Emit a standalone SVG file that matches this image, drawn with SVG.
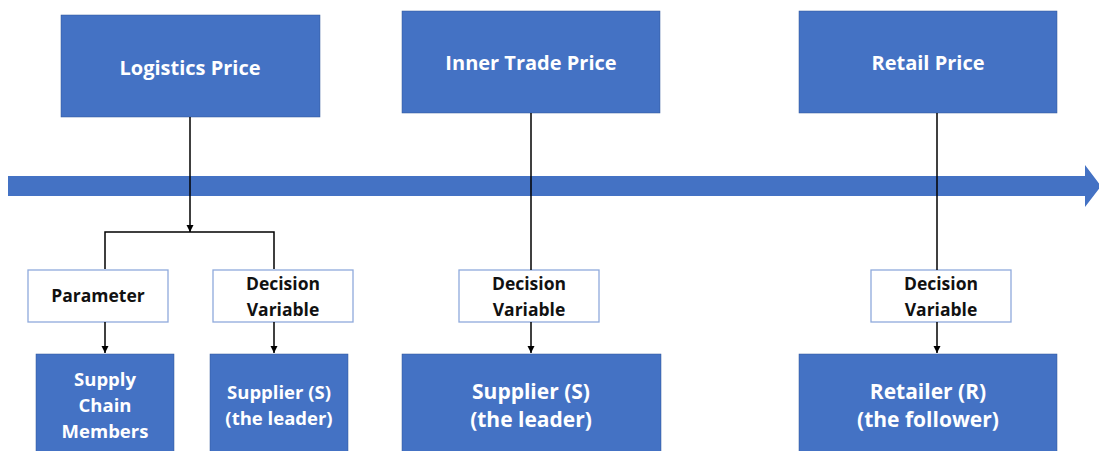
<svg xmlns="http://www.w3.org/2000/svg" width="1099" height="451" viewBox="0 0 1099 451">
<style>
.blue{fill:#4472C4;stroke:#2F5597;stroke-width:0.5}
.white{fill:#FFFFFF;stroke:#8FAADC;stroke-width:1.3}
.tw{font-family:"Open Sans","Liberation Sans",sans-serif;font-weight:bold;fill:#FFFFFF;text-anchor:middle}
.tb{font-family:"Open Sans","Liberation Sans",sans-serif;font-weight:bold;fill:#111111;text-anchor:middle;font-size:17.5px}
.ln{stroke:#000000;stroke-width:1.5;fill:none}
</style>
<defs>
<marker id="ah" viewBox="0 0 10 10" refX="10" refY="5" markerWidth="5" markerHeight="5" orient="auto">
<path d="M0,0 L10,5 L0,10 z" fill="#000"/>
</marker>
</defs>
<rect width="1099" height="451" fill="#FFFFFF"/>
<g id="timeline">
<path d="M8,176 L1085,176 L1085,165 L1101,186 L1085,207 L1085,196 L8,196 z" fill="#4472C4"/>
</g>
<g id="logistics-price"><rect class="blue" x="61" y="15" width="259" height="102"/><text class="tw" x="190" y="75" font-size="20">Logistics Price</text></g>
<g id="inner-trade-price"><rect class="blue" x="402" y="11" width="258" height="102"/><text class="tw" x="531" y="70" font-size="20">Inner Trade Price</text></g>
<g id="retail-price"><rect class="blue" x="799" y="11" width="258" height="102"/><text class="tw" x="928" y="70" font-size="20">Retail Price</text></g>
<g id="parameter"><rect class="white" x="28" y="270" width="140" height="52"/><text class="tb" x="98" y="302">Parameter</text></g>
<g id="decision-variable-1"><rect class="white" x="213" y="270" width="140" height="52"/><text class="tb" x="283" y="290">Decision</text><text class="tb" x="283" y="316">Variable</text></g>
<g id="decision-variable-2"><rect class="white" x="459" y="270" width="140" height="52"/><text class="tb" x="529" y="290">Decision</text><text class="tb" x="529" y="316">Variable</text></g>
<g id="decision-variable-3"><rect class="white" x="871" y="270" width="140" height="52"/><text class="tb" x="941" y="290">Decision</text><text class="tb" x="941" y="316">Variable</text></g>
<g id="supply-chain-members"><rect class="blue" x="36" y="354" width="138" height="100"/><text class="tw" x="105" y="386" font-size="18.5">Supply</text><text class="tw" x="105" y="412" font-size="18.5">Chain</text><text class="tw" x="105" y="438" font-size="18.5">Members</text></g>
<g id="supplier-1"><rect class="blue" x="210" y="354" width="138" height="100"/><text class="tw" x="279" y="399" font-size="18.5">Supplier (S)</text><text class="tw" x="279" y="425" font-size="18.5">(the leader)</text></g>
<g id="supplier-2"><rect class="blue" x="402" y="354" width="259" height="100"/><text class="tw" x="531" y="399" font-size="21">Supplier (S)</text><text class="tw" x="531" y="427" font-size="21">(the leader)</text></g>
<g id="retailer"><rect class="blue" x="799" y="354" width="258" height="100"/><text class="tw" x="928" y="399" font-size="21">Retailer (R)</text><text class="tw" x="928" y="427" font-size="21">(the follower)</text></g>
<g id="connectors">
<line class="ln" x1="190" y1="117" x2="190" y2="232" marker-end="url(#ah)"/>
<path class="ln" d="M105,269 L105,232 L274,232 L274,269"/>
<line class="ln" x1="105" y1="322" x2="105" y2="353" marker-end="url(#ah)"/>
<line class="ln" x1="274" y1="322" x2="274" y2="353" marker-end="url(#ah)"/>
<line class="ln" x1="531" y1="113" x2="531" y2="270"/>
<line class="ln" x1="531" y1="322" x2="531" y2="353" marker-end="url(#ah)"/>
<line class="ln" x1="937" y1="113" x2="937" y2="270"/>
<line class="ln" x1="937" y1="322" x2="937" y2="353" marker-end="url(#ah)"/>
</g>
</svg>
